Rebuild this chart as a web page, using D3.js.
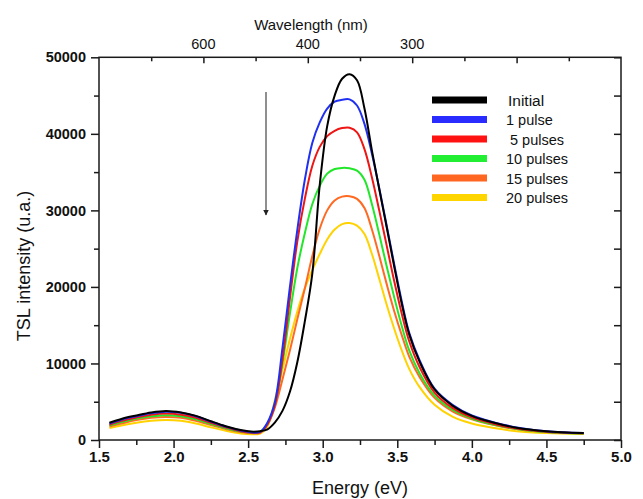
<!DOCTYPE html>
<html>
<head>
<meta charset="utf-8">
<script src="https://cdn.jsdelivr.net/npm/d3@7"></script>
<style>
  html, body { margin: 0; padding: 0; background: #fff; }
  svg { display: block; font-family: "Liberation Sans", Arial, sans-serif; }
</style>
</head>
<body>
<svg id="chart" width="643" height="499"></svg>
<script>
// ---------------- data ----------------
const energy = [1.57, 1.65, 1.75, 1.85, 1.95, 2.05, 2.15, 2.25, 2.35, 2.45, 2.52, 2.58, 2.63, 2.68, 2.73, 2.78, 2.83, 2.88, 2.93, 2.98, 3.03, 3.08, 3.13, 3.18, 3.23, 3.28, 3.33, 3.38, 3.43, 3.48, 3.53, 3.58, 3.65, 3.75, 3.87, 4.0, 4.15, 4.3, 4.5, 4.75];

const initial   = [2250, 2750, 3200, 3600, 3800, 3600, 3150, 2450, 1800, 1300, 1100, 1150, 1400, 2300, 3800, 6300, 10200, 15500, 21700, 33300, 41000, 45000, 47200, 47800, 47000, 43300, 37800, 32700, 27700, 22600, 17800, 13800, 10200, 6600, 4500, 3150, 2250, 1600, 1150, 900];
const pulse1    = [2150, 2650, 3100, 3500, 3700, 3550, 3100, 2400, 1750, 1250, 1000, 1050, 2300, 5000, 12000, 20000, 27500, 34000, 38800, 41500, 43300, 44200, 44450, 44500, 43700, 41300, 37400, 32800, 27900, 22900, 18100, 14000, 10400, 6700, 4600, 3200, 2300, 1650, 1150, 900];
const pulses5   = [2000, 2500, 2950, 3300, 3450, 3300, 2900, 2250, 1650, 1150, 950, 1000, 2100, 4600, 10500, 18500, 26000, 31500, 35800, 38300, 39700, 40400, 40750, 40800, 40200, 38000, 34300, 29900, 25300, 20700, 16500, 12900, 9500, 6200, 4200, 2950, 2100, 1500, 1080, 880];
const pulses10  = [1900, 2350, 2800, 3100, 3250, 3100, 2700, 2100, 1550, 1100, 950, 1050, 2200, 4700, 10000, 16500, 22500, 27000, 30800, 33200, 34800, 35400, 35550, 35500, 35200, 34000, 30800, 26800, 22600, 18600, 14900, 11700, 8700, 5800, 3950, 2800, 2000, 1450, 1050, 860];
const pulses15  = [1750, 2150, 2600, 2900, 3000, 2900, 2500, 1950, 1450, 1050, 900, 950, 2000, 4300, 7900, 11700, 15800, 19800, 24000, 27600, 30000, 31300, 31800, 31850, 31500, 30300, 27500, 24000, 20300, 16800, 13700, 10900, 8200, 5500, 3750, 2700, 1950, 1420, 1030, 850];
const pulses20  = [1550, 1900, 2250, 2500, 2600, 2500, 2150, 1650, 1200, 850, 750, 850, 1800, 5300, 9200, 13200, 16800, 19800, 22200, 24300, 26200, 27500, 28200, 28350, 28000, 26900, 24300, 21000, 17600, 14500, 11700, 9300, 6900, 4600, 3050, 2150, 1560, 1150, 900, 780];

const seriesNames  = ["Initial", "1 pulse", " 5 pulses", "10 pulses", "15 pulses", "20 pulses"];
const seriesValues = [initial, pulse1, pulses5, pulses10, pulses15, pulses20];

const xTicksMajor = [1.5, 2.0, 2.5, 3.0, 3.5, 4.0, 4.5, 5.0];
const xTicksMinor = [1.75, 2.25, 2.75, 3.25, 3.75, 4.25, 4.75];
const yTicksMajor = [0, 10000, 20000, 30000, 40000, 50000];
const yTicksMinor = [5000, 15000, 25000, 35000, 45000];
const topTickLabels = ["600", "400", "300", ""];   // at top major positions 2,4,6,8
const topTickMajorPos = [2, 4, 6, 8];
const topTickMinorPos = [1, 3, 5, 7, 9];

// ---------------- styles / layout ----------------
const colors = ["#000000", "#2030f0", "#ee1515", "#22e62a", "#ff6a22", "#ffd200"];
const legendColors = ["#000000", "#2a2cff", "#ff1212", "#22ee33", "#ff6622", "#ffd500"];
const L = 99, R = 621, T = 57.3, B = 440;

const svg = d3.select("#chart");
const x = d3.scaleLinear().domain([1.5, 5.0]).range([L, R]);
const y = d3.scaleLinear().domain([0, 50000]).range([B, T]);
const xTop = d3.scaleLinear().domain([0, 10]).range([L, R]);

// curves (draw yellow first, black last)
const line = d3.line()
  .x((d, i) => x(energy[i]))
  .y(d => y(d))
  .curve(d3.curveCatmullRom.alpha(0.5));

const order = [5, 4, 3, 2, 1, 0];
svg.append("g").selectAll("path")
  .data(order)
  .join("path")
  .attr("d", k => line(seriesValues[k]))
  .attr("fill", "none")
  .attr("stroke", k => colors[k])
  .attr("stroke-width", 2)
  .attr("stroke-linejoin", "round");

// frame
svg.append("rect")
  .attr("x", L).attr("y", T).attr("width", R - L).attr("height", B - T)
  .attr("fill", "none").attr("stroke", "#1a1a1a").attr("stroke-width", 1.5);

// bottom axis (outward ticks)
const axB = svg.append("g").attr("transform", `translate(0,${B})`);
axB.call(d3.axisBottom(x).tickValues(xTicksMajor).tickFormat(d3.format(".1f")).tickSize(8).tickPadding(3))
  .call(g => g.select(".domain").remove());
axB.selectAll("text").attr("font-size", 15).attr("font-weight", "bold").attr("fill", "#111")
  .attr("font-family", "Liberation Sans, Arial, sans-serif");
axB.selectAll("line").attr("stroke", "#1a1a1a").attr("stroke-width", 1.5);
const axBm = svg.append("g").attr("transform", `translate(0,${B})`);
axBm.call(d3.axisBottom(x).tickValues(xTicksMinor).tickFormat("").tickSize(5))
  .call(g => g.select(".domain").remove());
axBm.selectAll("line").attr("stroke", "#1a1a1a").attr("stroke-width", 1.5);

// left axis (outward ticks)
const axL = svg.append("g").attr("transform", `translate(${L},0)`);
axL.call(d3.axisLeft(y).tickValues(yTicksMajor).tickFormat(d3.format("d")).tickSize(8).tickPadding(5))
  .call(g => g.select(".domain").remove());
axL.selectAll("text").attr("font-size", 14.5).attr("font-weight", "bold").attr("fill", "#111")
  .attr("font-family", "Liberation Sans, Arial, sans-serif");
axL.selectAll("line").attr("stroke", "#1a1a1a").attr("stroke-width", 1.5);
const axLm = svg.append("g").attr("transform", `translate(${L},0)`);
axLm.call(d3.axisLeft(y).tickValues(yTicksMinor).tickFormat("").tickSize(5))
  .call(g => g.select(".domain").remove());
axLm.selectAll("line").attr("stroke", "#1a1a1a").attr("stroke-width", 1.5);

// right axis (inward ticks)
const axR = svg.append("g").attr("transform", `translate(${R},0)`);
axR.call(d3.axisLeft(y).tickValues(yTicksMajor.concat(yTicksMinor)).tickFormat("").tickSize(7))
  .call(g => g.select(".domain").remove());
axR.selectAll("line").attr("stroke", "#1a1a1a").attr("stroke-width", 1.5);

// top axis (inward ticks)
const axT = svg.append("g").attr("transform", `translate(0,${T})`);
axT.call(d3.axisBottom(xTop).tickValues(topTickMajorPos).tickFormat("").tickSize(6))
  .call(g => g.select(".domain").remove());
axT.selectAll("line").attr("stroke", "#1a1a1a").attr("stroke-width", 1.5);
const axTm = svg.append("g").attr("transform", `translate(0,${T})`);
axTm.call(d3.axisBottom(xTop).tickValues(topTickMinorPos).tickFormat("").tickSize(4))
  .call(g => g.select(".domain").remove());
axTm.selectAll("line").attr("stroke", "#1a1a1a").attr("stroke-width", 1.5);
svg.append("g").selectAll("text")
  .data(topTickMajorPos)
  .join("text")
  .attr("x", d => xTop(d))
  .attr("y", T - 8)
  .attr("text-anchor", "middle")
  .attr("font-size", 14.5)
  .attr("fill", "#111")
  .text((d, i) => topTickLabels[i]);

// axis titles
svg.append("text").attr("x", 311).attr("y", 30).attr("text-anchor", "middle")
  .attr("font-size", 15).attr("fill", "#111").text("Wavelength (nm)");
svg.append("text").attr("x", 360).attr("y", 494).attr("text-anchor", "middle")
  .attr("font-size", 18).attr("fill", "#111").text("Energy (eV)");
svg.append("text").attr("transform", "translate(30,266) rotate(-90)").attr("text-anchor", "middle")
  .attr("font-size", 18).attr("fill", "#111").text("TSL intensity (u.a.)");

// arrow
svg.append("defs").append("marker")
  .attr("id", "ah").attr("viewBox", "0 0 10 10").attr("refX", 9).attr("refY", 5)
  .attr("markerWidth", 5).attr("markerHeight", 6).attr("orient", "auto")
  .append("path").attr("d", "M0,0 L10,5 L0,10 Z").attr("fill", "#222");
svg.append("line").attr("x1", 266).attr("y1", 92).attr("x2", 266).attr("y2", 215)
  .attr("stroke", "#333").attr("stroke-width", 1.1).attr("marker-end", "url(#ah)");

// legend
const lg = svg.append("g");
seriesNames.forEach((name, i) => {
  const cy = 100 + i * 19.5;
  lg.append("rect").attr("x", 432).attr("y", cy - 3.5).attr("width", 55).attr("height", 7)
    .attr("fill", legendColors[i]);
  lg.append("text").attr("x", i === 0 ? 508 : 506).attr("y", cy + 5.5)
    .attr("font-size", i === 0 ? 15.5 : 14.5).attr("fill", "#111")
    .attr("xml:space", "preserve")
    .style("white-space", "pre")
    .text(name);
});
</script>
</body>
</html>
